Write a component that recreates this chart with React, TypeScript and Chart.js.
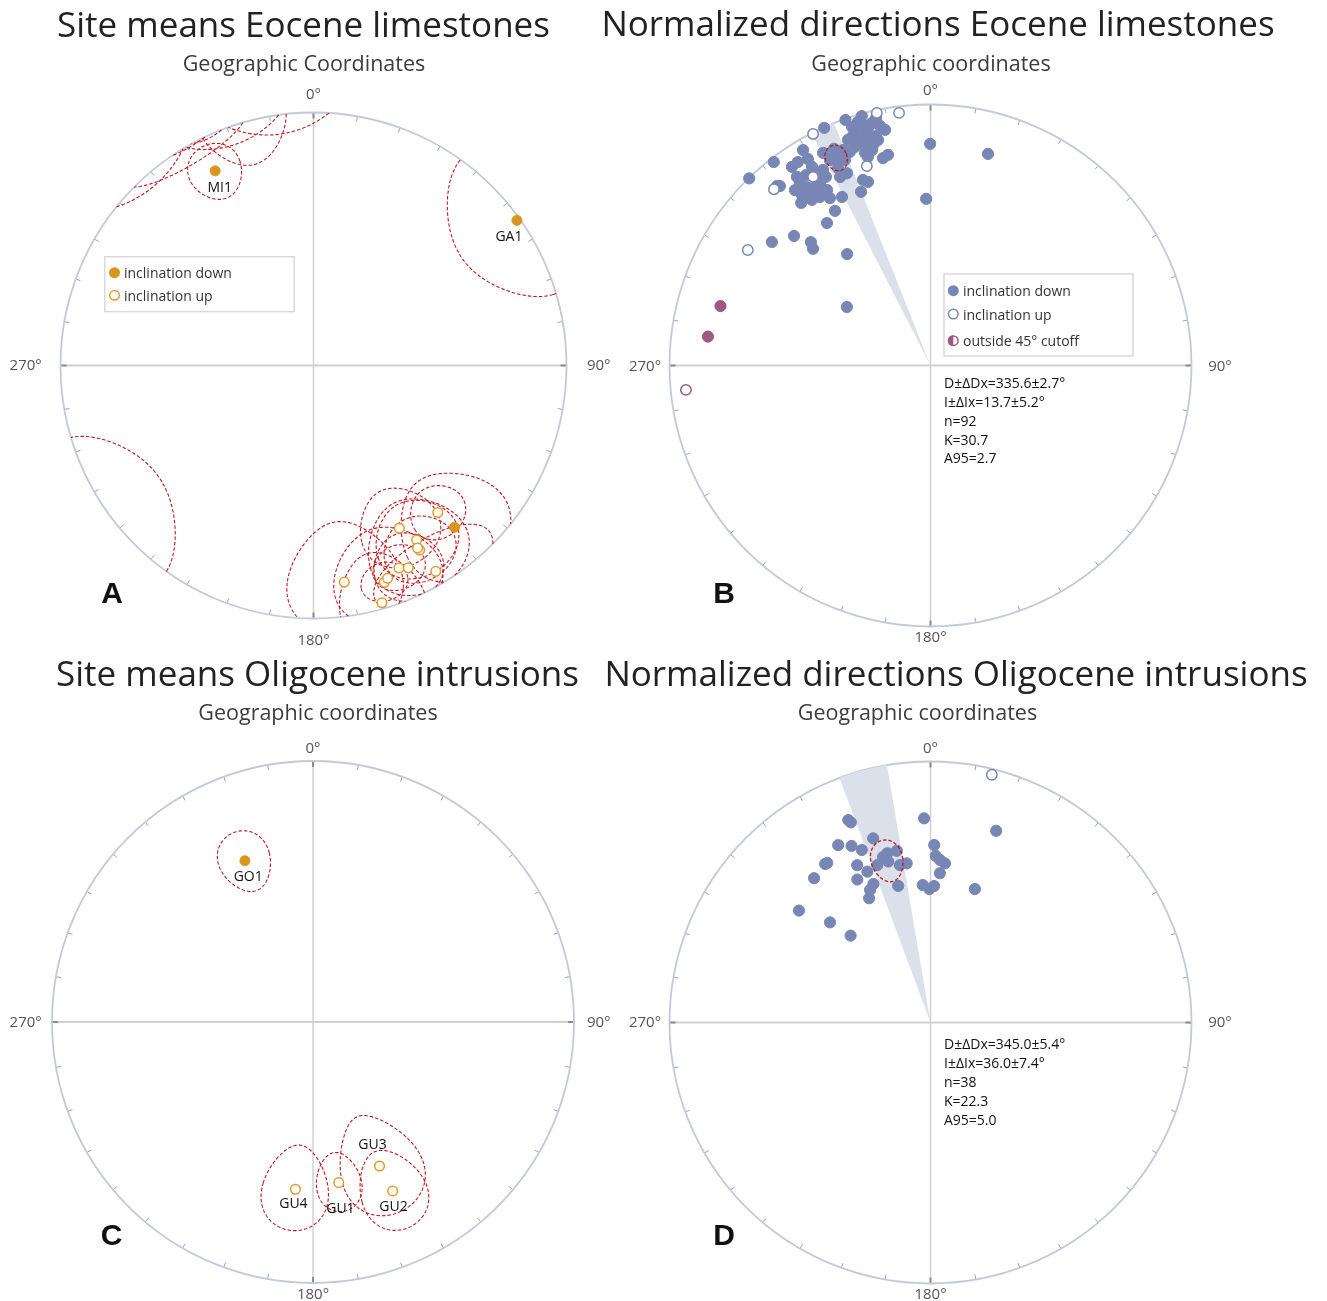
import React, { useEffect, useRef } from 'react';
import { Chart, registerables } from 'chart.js';

Chart.register(...registerables);
Chart.defaults.font.family = "'Open Sans', sans-serif";

const D2R = Math.PI / 180;
const FONT = "'Open Sans', 'Noto Sans', sans-serif";

// ---------------- colours ----------------
const ORANGE = '#d9961e';
const ORANGE_LINE = '#e09a28';
const BLUE = '#7886b5';
const PURPLE = '#9d5a7e';
const RED = '#c01820';
const WEDGE = '#dce0ea';

// ---------------- Panel A: site means, Eocene limestones ----------------
const siteA_label = ['MI1', 'GA1', '', '', '', '', '', '', '', '', '', '', '', '', ''];
const siteA_dec = [333.2, 54.5, 138.9, 139.8, 152.2, 149.4, 150.1, 150.3, 157.1, 154.9, 149.3, 171.9, 161.9, 160.8, 163.9];
const siteA_inc = [14.9, 1.4, 16.3, -24.9, -28.1, -21.0, -17.0, -18.1, -14.2, -12.7, -6.0, -14.6, -10.8, -11.9, -2.7];
const siteA_dDec = [7, 19, 15, 8.5, 12.5, 12, 10, 14, 7, 9, 16, 15, 6, 14, 10];
const siteA_dInc = [11.5, 27, 22, 10, 15, 15, 13, 19, 9, 14, 14, 23, 8, 20, 21];

// ---------------- Panel B: normalized directions, Eocene limestones ----------------
const dirB_dec = [
  340.9, 344.6, 343.4, 346.4, 348.1, 335.9, 341.9, 344.5, 346.9, 342.4,
  344.5, 339.9, 340.9, 342.9, 343.3, 347.1, 348.6, 359.9, 15.2, 329.4,
  329.3, 333.2, 335.6, 335.4, 322.4, 325.1, 326.9, 315.9, 319.5, 320.0,
  324.7, 331.2, 334.4, 336.5, 324.4, 325.3, 328.8, 329.5, 340.0, 341.2,
  323.0, 323.2, 325.9, 326.7, 332.3, 338.2, 328.3, 324.0, 307.9, 313.5,
  315.9, 314.8, 323.2, 305.0, 358.5, 342.6, 345.3, 347.6, 339.3, 337.9,
  344.8, 329.2, 327.8, 324.4, 329.0, 344.2, 349.1, 343.6, 346.6, 334.9,
  326.8, 333.9, 322.3, 341.8, 345.4, 337.4, 329.3, 325.5, 341.3, 345.0,
  321.5, 327.0, 331.0, 336.0, 343.8,
  348.0, 352.9, 333.1, 342.3, 318.4, 328.1, 302.3,
];
const dirB_inc = [
  0.5, 1.0, 3.0, 5.0, 6.9, 0.3, 7.8, 8.3, 12.3, 11.5,
  14.2, 8.8, 12.4, 15.9, 17.7, 19.6, 18.8, 16.2, 17.1, 4.6,
  8.8, 9.6, 12.5, 15.0, 1.8, 8.0, 7.7, 0.2, 10.4, 11.2,
  12.5, 15.6, 21.0, 20.8, 15.1, 18.0, 19.4, 23.0, 25.3, 26.6,
  19.3, 20.9, 22.2, 23.8, 27.9, 29.1, 31.0, 33.0, 24.0, 28.7,
  34.5, 36.7, 45.7, 57.9, 36.3, 5.2, 6.5, 3.3, 13.6, 11.9,
  15.6, 12.4, 19.4, 23.0, 26.1, 4.3, 8.9, 10.9, 10.6, 17.6,
  13.9, 13.4, 16.2, 4.3, 13.8, 15.8, 16.7, 19.6, 7.9, 9.9,
  21.5, 21.0, 18.5, 10.0, 12.0,
  -1.2, -2.8, -0.6, -20.9, -10.6, -16.0, -18.3,
];
const cutB_dec = [285.8, 277.4, 264.3];
const cutB_inc = [17.5, 15.1, -6.5];
const meanB_dec = 335.6;
const meanB_dDx = 2.7;
const meanB_inc = 13.7;
const meanB_dIx = 5.2;
const statsB_n = 92;
const statsB_K = 30.7;
const statsB_A95 = 2.7;

// ---------------- Panel C: site means, Oligocene intrusions ----------------
const siteC_label = ['GO1', 'GU1', 'GU2', 'GU3', 'GU4'];
const siteC_dec = [337.1, 170.9, 154.75, 155.2, 186.0];
const siteC_inc = [33.4, -37.7, -29.2, -39.1, -35.8];
const siteC_dDec = [8.4, 7.9, 10, 14.5, 11.2];
const siteC_dInc = [11, 10.3, 15, 18, 15];

// ---------------- Panel D: normalized directions, Oligocene intrusions ----------------
const dirD_dec = [
  337.9, 338.3, 358.2, 18.9, 342.7, 332.5, 335.9, 338.3, 1.2, 345.7,
  348.9, 341.3, 345.3, 349.0, 351.5, 326.4, 327.1, 335.0, 337.3, 1.8,
  3.3, 5.2, 3.6, 321.1, 332.9, 337.6, 335.5, 333.7, 346.7, 356.8,
  359.5, 1.5, 18.4, 310.4, 314.9, 317.4, 344.0, 13.9,
];
const dirD_inc = [
  17.4, 18.6, 22.8, 23.4, 27.0, 24.4, 26.8, 29.6, 32.5, 33.5,
  33.4, 36.5, 36.4, 38.5, 38.3, 27.9, 28.0, 33.9, 37.4, 36.3,
  37.6, 38.7, 42.2, 29.7, 38.4, 42.1, 43.5, 45.9, 45.3, 46.2,
  47.6, 46.6, 45.2, 34.2, 44.8, 52.7, 34.4, -2.5,
];
const meanD_dec = 345.0;
const meanD_dDx = 5.4;
const meanD_inc = 36.0;
const meanD_dIx = 7.4;
const statsD_n = 38;
const statsD_K = 22.3;
const statsD_A95 = 5.0;

// ---------------- label styling (pixel offsets of site names) ----------------
const labelOffsetA: Record<string, [number, number]> = { MI1: [4.5, 21.5], GA1: [-8, 20.7] };
const labelOffsetC: Record<string, [number, number]> = {
  GO1: [3.3, 20], GU1: [1.7, 30.6], GU2: [0.8, 19.7], GU3: [-7, -16.7], GU4: [-2, 19],
};

// ---------------- geometry helpers (equal-area projection) ----------------
function project(dec: number, inc: number) {
  const r = Math.SQRT2 * Math.sin(((90 - Math.abs(inc)) * D2R) / 2);
  return { x: r * Math.sin(dec * D2R), y: r * Math.cos(dec * D2R) };
}

function ellipsePath(dec: number, inc: number, dDec: number, dInc: number, steps = 240) {
  const out: any[] = [];
  const sgn = inc >= 0 ? 1 : -1;
  let prev: any = null;
  for (let k = 0; k <= steps; k++) {
    const t = (2 * Math.PI * k) / steps;
    const D = dec + dDec * Math.cos(t);
    const I = inc + dInc * Math.sin(t);
    const same = I * sgn >= 0;
    if (prev && prev.same !== same) {
      const f = prev.I / (prev.I - I);
      const Dc = prev.D + f * (D - prev.D);
      out.push(project(prev.same ? Dc : Dc + 180, 0));
      out.push({ x: null, y: null });
      out.push(project(same ? Dc : Dc + 180, 0));
    }
    out.push(project(same ? D : D + 180, I));
    prev = { D, I, same };
  }
  return out;
}

function wedgePath(dec: number, half: number) {
  const pts: any[] = [{ x: 0, y: 0 }];
  const n = 40;
  for (let k = 0; k <= n; k++) pts.push(project(dec - half + (2 * half * k) / n, 0));
  pts.push({ x: 0, y: 0 });
  return pts;
}

function ellipseDataset(path: any[], order: number, width = 1.1) {
  return {
    type: 'line', data: path, borderColor: RED, borderWidth: width, borderDash: [3.5, 2],
    pointRadius: 0, fill: false, showLine: true, spanGaps: false, tension: 0, order,
  };
}

function pointSet(decs: number[], incs: number[], wantUp: boolean) {
  const pts: any[] = [];
  decs.forEach((d, i) => {
    if ((incs[i] < 0) === wantUp) pts.push(project(d, incs[i]));
  });
  return pts;
}

function downDataset(data: any[], color: string, r: number, order: number) {
  return { type: 'scatter', data, backgroundColor: color, borderColor: color, borderWidth: 1, pointRadius: r, pointStyle: 'circle', order, clip: 12 };
}
function upDataset(data: any[], color: string, r: number, order: number) {
  return { type: 'scatter', data, backgroundColor: '#ffffff', borderColor: color, borderWidth: 1.5, pointRadius: r, pointStyle: 'circle', order, clip: 12 };
}

// ---------------- dataset builders ----------------
function buildA() {
  const ells = siteA_dec.map((d, i) => ellipseDataset(ellipsePath(d, siteA_inc[i], siteA_dDec[i], siteA_dInc[i]), 2));
  return [
    downDataset(pointSet(siteA_dec, siteA_inc, false), ORANGE, 5, 0),
    upDataset(pointSet(siteA_dec, siteA_inc, true), ORANGE_LINE, 4.8, 0),
    ...ells,
  ];
}
function buildB() {
  return [
    ellipseDataset(ellipsePath(meanB_dec, meanB_inc, meanB_dDx, meanB_dIx), 0, 1.3),
    downDataset(pointSet(cutB_dec, cutB_inc, false), PURPLE, 5.6, 1),
    upDataset(pointSet(cutB_dec, cutB_inc, true), PURPLE, 5.2, 1),
    upDataset(pointSet(dirB_dec, dirB_inc, true), BLUE, 5.2, 1),
    downDataset(pointSet(dirB_dec, dirB_inc, false), BLUE, 5.6, 1),
    { type: 'line', data: wedgePath(meanB_dec, meanB_dDx), fill: 'shape', backgroundColor: WEDGE, borderColor: 'rgba(0,0,0,0)', borderWidth: 0, pointRadius: 0, order: 3 },
  ];
}
function buildC() {
  const ells = siteC_dec.map((d, i) => ellipseDataset(ellipsePath(d, siteC_inc[i], siteC_dDec[i], siteC_dInc[i]), 2));
  return [
    downDataset(pointSet(siteC_dec, siteC_inc, false), ORANGE, 5, 0),
    upDataset(pointSet(siteC_dec, siteC_inc, true), ORANGE_LINE, 4.8, 0),
    ...ells,
  ];
}
function buildD() {
  return [
    ellipseDataset(ellipsePath(meanD_dec, meanD_inc, meanD_dDx, meanD_dIx), 0, 1.3),
    upDataset(pointSet(dirD_dec, dirD_inc, true), BLUE, 5.2, 1),
    downDataset(pointSet(dirD_dec, dirD_inc, false), BLUE, 5.6, 1),
    { type: 'line', data: wedgePath(meanD_dec, meanD_dDx), fill: 'shape', backgroundColor: WEDGE, borderColor: 'rgba(0,0,0,0)', borderWidth: 0, pointRadius: 0, order: 3 },
  ];
}

function statLines(dec: number, dDx: number, inc: number, dIx: number, n: number, K: number, A95: number) {
  return [
    `D±ΔDx=${dec.toFixed(1)}±${dDx.toFixed(1)}°`,
    `I±ΔIx=${inc.toFixed(1)}±${dIx.toFixed(1)}°`,
    `n=${n}`,
    `K=${K.toFixed(1)}`,
    `A95=${A95.toFixed(1)}`,
  ];
}

function siteLabels(names: string[], decs: number[], incs: number[], offs: Record<string, [number, number]>) {
  return names
    .map((t, i) => ({ text: t, dec: decs[i], inc: incs[i], off: offs[t] }))
    .filter((s) => s.text && s.off);
}

// ---------------- panel layout ----------------
const PANELS: any[] = [
  {
    letter: 'A', left: 0, top: 0, width: 664, height: 656, cx: 313.5, cy: 365.5, R: 253,
    title: 'Site means Eocene limestones', titleX: 303.5, titleY: 36.5,
    subtitle: 'Geographic Coordinates', subX: 304, subY: 70.5,
    letterX: 112, letterY: 603.3,
    az: { n: [313.5, 99], s: [313.5, 645], w: [25.7, 370], e: [598.7, 370] },
    legend: { box: [104.8, 256.7, 294.2, 311.7], x: 114.5, textX: 124, items: [
      { y: 272.7, kind: 'down', text: 'inclination down', color: ORANGE },
      { y: 295.3, kind: 'up', text: 'inclination up', color: ORANGE_LINE },
    ] },
    labels: siteLabels(siteA_label, siteA_dec, siteA_inc, labelOffsetA),
    build: buildA,
  },
  {
    letter: 'B', left: 590, top: 0, width: 737, height: 656, cx: 930.5, cy: 365.5, R: 261,
    title: 'Normalized directions Eocene limestones', titleX: 938, titleY: 36,
    subtitle: 'Geographic coordinates', subX: 931, subY: 70.5,
    letterX: 724, letterY: 602.7,
    az: { n: [930.5, 95], s: [930.5, 641.7], w: [645, 370.5], e: [1220, 370.5] },
    legend: { box: [944, 274, 1133, 356], x: 953.3, textX: 963, items: [
      { y: 290.7, kind: 'down', text: 'inclination down', color: BLUE },
      { y: 314, kind: 'up', text: 'inclination up', color: BLUE },
      { y: 340.7, kind: 'half', text: 'outside 45° cutoff', color: PURPLE },
    ] },
    stats: { x: 944, y: 388.3, dy: 18.75, lines: statLines(meanB_dec, meanB_dDx, meanB_inc, meanB_dIx, statsB_n, statsB_K, statsB_A95) },
    labels: [],
    build: buildB,
  },
  {
    letter: 'C', left: 0, top: 656, width: 664, height: 645, cx: 313, cy: 1022, R: 261,
    title: 'Site means Oligocene intrusions', titleX: 317.5, titleY: 686,
    subtitle: 'Geographic coordinates', subX: 318, subY: 720,
    letterX: 111.5, letterY: 1245,
    az: { n: [313, 753], s: [313, 1299], w: [25.7, 1027], e: [598.7, 1027] },
    labels: siteLabels(siteC_label, siteC_dec, siteC_inc, labelOffsetC),
    build: buildC,
  },
  {
    letter: 'D', left: 590, top: 656, width: 737, height: 645, cx: 930.5, cy: 1022.5, R: 261,
    title: 'Normalized directions Oligocene intrusions', titleX: 956, titleY: 686,
    subtitle: 'Geographic coordinates', subX: 917.5, subY: 720,
    letterX: 724, letterY: 1245,
    az: { n: [930.5, 753.3], s: [930.5, 1299], w: [645, 1027], e: [1220, 1027] },
    stats: { x: 944, y: 1049.3, dy: 18.85, lines: statLines(meanD_dec, meanD_dDx, meanD_inc, meanD_dIx, statsD_n, statsD_K, statsD_A95) },
    labels: [],
    build: buildD,
  },
];

// ---------------- drawing plugin ----------------
function drawMarker(ctx: CanvasRenderingContext2D, x: number, y: number, kind: string, color: string) {
  ctx.save();
  if (kind === 'down') {
    ctx.fillStyle = color;
    ctx.beginPath(); ctx.arc(x, y, 5.5, 0, 2 * Math.PI); ctx.fill();
  } else {
    ctx.fillStyle = '#ffffff'; ctx.strokeStyle = color; ctx.lineWidth = 1.5;
    ctx.beginPath(); ctx.arc(x, y, 4.8, 0, 2 * Math.PI); ctx.fill(); ctx.stroke();
    if (kind === 'half') {
      ctx.fillStyle = color;
      ctx.beginPath(); ctx.arc(x, y, 5.5, Math.PI / 2, (3 * Math.PI) / 2); ctx.closePath(); ctx.fill();
    }
  }
  ctx.restore();
}

function makeDecor(cfg: any) {
  const text = (ctx: CanvasRenderingContext2D, s: string, x: number, y: number, font: string, color: string, align: CanvasTextAlign = 'left') => {
    ctx.font = font; ctx.fillStyle = color; ctx.textAlign = align; ctx.textBaseline = 'alphabetic';
    ctx.fillText(s, x - cfg.left, y - cfg.top);
  };
  return {
    id: 'stereoDecor' + cfg.letter,
    beforeDatasetsDraw(chart: any) {
      const ctx = chart.ctx as CanvasRenderingContext2D;
      const xs = chart.scales.x, ys = chart.scales.y;
      const cx = xs.getPixelForValue(0), cy = ys.getPixelForValue(0);
      const R = xs.getPixelForValue(1) - cx;
      ctx.save();
      ctx.strokeStyle = '#d0d0d0';
      ctx.lineWidth = 2;
      ctx.beginPath(); ctx.moveTo(cx - R, cy); ctx.lineTo(cx + R, cy); ctx.stroke();
      ctx.lineWidth = 1.5;
      ctx.beginPath(); ctx.moveTo(cx, cy - R); ctx.lineTo(cx, cy + R); ctx.stroke();
      for (let a = 0; a < 360; a += 10) {
        const major = a % 90 === 0;
        const len = major ? 6 : 5;
        ctx.strokeStyle = major ? '#8c8c8c' : '#a0a0a0';
        ctx.lineWidth = major ? 2 : 1;
        const s = Math.sin(a * D2R), c = Math.cos(a * D2R);
        ctx.beginPath();
        ctx.moveTo(cx + s * R, cy - c * R);
        ctx.lineTo(cx + s * (R - len), cy - c * (R - len));
        ctx.stroke();
      }
      ctx.strokeStyle = '#c3c9dd'; ctx.lineWidth = 1.8;
      ctx.beginPath(); ctx.arc(cx, cy, R, 0, 2 * Math.PI); ctx.stroke();
      ctx.restore();
    },
    afterDraw(chart: any) {
      const ctx = chart.ctx as CanvasRenderingContext2D;
      const xs = chart.scales.x, ys = chart.scales.y;
      ctx.save();
      text(ctx, cfg.title, cfg.titleX, cfg.titleY, `35px ${FONT}`, '#222222', 'center');
      text(ctx, cfg.subtitle, cfg.subX, cfg.subY, `21.5px ${FONT}`, '#3c3c3c', 'center');
      const azFont = `15px ${FONT}`;
      text(ctx, '0°', cfg.az.n[0], cfg.az.n[1], azFont, '#555555', 'center');
      text(ctx, '180°', cfg.az.s[0], cfg.az.s[1], azFont, '#555555', 'center');
      text(ctx, '270°', cfg.az.w[0], cfg.az.w[1], azFont, '#555555', 'center');
      text(ctx, '90°', cfg.az.e[0], cfg.az.e[1], azFont, '#555555', 'center');
      text(ctx, cfg.letter, cfg.letterX, cfg.letterY, `bold 30px 'Liberation Sans', Arial, sans-serif`, '#111111', 'center');
      if (cfg.legend) {
        const [x0, y0, x1, y1] = cfg.legend.box;
        ctx.fillStyle = '#ffffff'; ctx.strokeStyle = '#d9d9d9'; ctx.lineWidth = 1.5;
        ctx.fillRect(x0 - cfg.left, y0 - cfg.top, x1 - x0, y1 - y0);
        ctx.strokeRect(x0 - cfg.left, y0 - cfg.top, x1 - x0, y1 - y0);
        for (const it of cfg.legend.items) {
          drawMarker(ctx, cfg.legend.x - cfg.left, it.y - cfg.top, it.kind, it.color);
          text(ctx, it.text, cfg.legend.textX, it.y + 5.5, `14px ${FONT}`, '#333333');
        }
      }
      if (cfg.stats) {
        cfg.stats.lines.forEach((l: string, i: number) => {
          text(ctx, l, cfg.stats.x, cfg.stats.y + i * cfg.stats.dy, `14px ${FONT}`, '#111111');
        });
      }
      for (const lb of cfg.labels) {
        const p = project(lb.dec, lb.inc);
        const px = xs.getPixelForValue(p.x) + cfg.left + lb.off[0];
        const py = ys.getPixelForValue(p.y) + cfg.top + lb.off[1];
        text(ctx, lb.text, px, py, `14px ${FONT}`, '#111111', 'center');
      }
      ctx.restore();
    },
  };
}

function Panel({ cfg }: { cfg: any }) {
  const ref = useRef<HTMLCanvasElement | null>(null);
  useEffect(() => {
    if (!ref.current) return;
    const chart = new Chart(ref.current, {
      type: 'scatter',
      data: { datasets: cfg.build() },
      options: {
        responsive: false,
        maintainAspectRatio: false,
        animation: false,
        events: [],
        layout: {
          padding: {
            left: cfg.cx - cfg.R - cfg.left,
            right: cfg.left + cfg.width - (cfg.cx + cfg.R),
            top: cfg.cy - cfg.R - cfg.top,
            bottom: cfg.top + cfg.height - (cfg.cy + cfg.R),
          },
        },
        scales: {
          x: { type: 'linear', min: -1, max: 1, display: false },
          y: { type: 'linear', min: -1, max: 1, display: false },
        },
        plugins: { legend: { display: false }, tooltip: { enabled: false }, title: { display: false } },
      } as any,
      plugins: [makeDecor(cfg)],
    } as any);
    return () => chart.destroy();
  }, [cfg]);
  return (
    <canvas
      ref={ref}
      width={cfg.width}
      height={cfg.height}
      style={{ position: 'absolute', left: cfg.left, top: cfg.top, width: cfg.width, height: cfg.height }}
    />
  );
}

export default function App() {
  return (
    <div style={{ position: 'relative', width: 1327, height: 1301, background: '#ffffff' }}>
      <style>{'body{margin:0;background:#ffffff;}'}</style>
      {PANELS.map((p) => (
        <Panel key={p.letter} cfg={p} />
      ))}
    </div>
  );
}
